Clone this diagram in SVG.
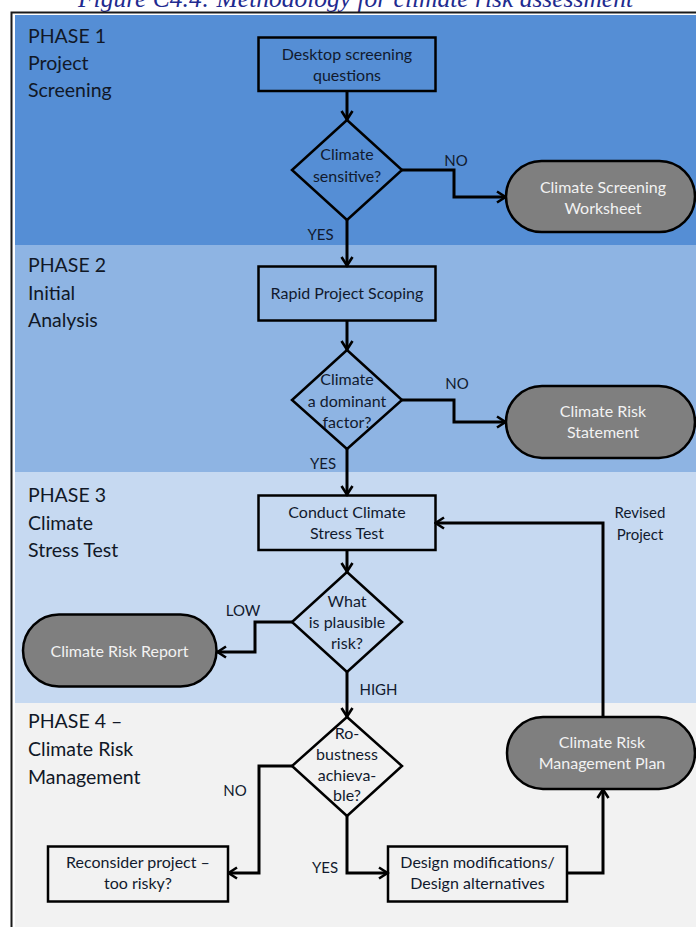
<svg xmlns="http://www.w3.org/2000/svg" width="696" height="927" viewBox="0 0 696 927">
<defs>
<style>
.lbl{font-family:Lato,"Noto Sans","Liberation Sans",sans-serif;font-size:19.5px;fill:#111827}
.t{font-family:Lato,"Noto Sans","Liberation Sans",sans-serif;font-size:16px;fill:#111a2e;text-anchor:middle}
.tw{font-family:Lato,"Noto Sans","Liberation Sans",sans-serif;font-size:16px;fill:#f2f2f2;text-anchor:middle}
.e{font-family:Lato,"Noto Sans","Liberation Sans",sans-serif;font-size:15px;fill:#111a2e;text-anchor:middle}
.box{fill:none;stroke:#000;stroke-width:2.5}
.term{fill:#7f7f7f;stroke:#000;stroke-width:2.5}
.c{fill:none;stroke:#000;stroke-width:3;marker-end:url(#ah)}
</style>
<marker id="ah" viewBox="0 0 12 14" refX="10.5" refY="7" markerWidth="12" markerHeight="14" markerUnits="userSpaceOnUse" orient="auto">
<path d="M1.5,1.5 L10,7 L1.5,12.5" fill="none" stroke="#000" stroke-width="2.6"/>
</marker>
</defs>
<rect x="0" y="0" width="696" height="927" fill="#fff"/>
<text x="355.5" y="7" text-anchor="middle" font-family="'Liberation Serif',serif" font-style="italic" font-size="25.5" fill="#1f2b8f">Figure C4.4: Methodology for climate risk assessment</text>
<rect x="11.5" y="12.5" width="700" height="930" fill="#fff" stroke="#1a1a1a" stroke-width="2"/>
<g id="bands">
<rect x="15" y="15" width="681" height="230" fill="#558ed5"/>
<rect x="15" y="245" width="681" height="227" fill="#8eb4e3"/>
<rect x="15" y="472" width="681" height="231" fill="#c6d9f1"/>
<rect x="15" y="703" width="681" height="224" fill="#f2f2f2"/>
</g>
<g id="phase1">
<text class="lbl" x="28" y="42.5">PHASE 1</text>
<text class="lbl" x="28" y="69.5">Project</text>
<text class="lbl" x="28" y="96.5">Screening</text>
</g>
<g id="phase2">
<text class="lbl" x="28" y="272">PHASE 2</text>
<text class="lbl" x="28" y="299.5">Initial</text>
<text class="lbl" x="28" y="327">Analysis</text>
</g>
<g id="phase3">
<text class="lbl" x="28" y="502">PHASE 3</text>
<text class="lbl" x="28" y="529.5">Climate</text>
<text class="lbl" x="28" y="557">Stress Test</text>
</g>
<g id="phase4">
<text class="lbl" x="28" y="727.5">PHASE 4 –</text>
<text class="lbl" x="28" y="756">Climate Risk</text>
<text class="lbl" x="28" y="784">Management</text>
</g>
<g id="connectors">
<polyline class="c" points="347,91 347,120"/>
<polyline class="c" points="402,170 454,170 454,197 506,197"/>
<polyline class="c" points="347,220 347,266"/>
<polyline class="c" points="347,320.5 347,350"/>
<polyline class="c" points="402,400 454,400 454,422 506,422"/>
<polyline class="c" points="347,449 347,495"/>
<polyline class="c" points="347,550 347,572"/>
<polyline class="c" points="292,622 255,622 255,652 217,652"/>
<polyline class="c" points="347,672 347,717"/>
<polyline class="c" points="292,766 259,766 259,873 228,873"/>
<polyline class="c" points="347,816 347,873 388,873"/>
<polyline class="c" points="567,873 603,873 603,789"/>
<polyline class="c" points="603,717 603,523 435,523"/>
<text class="e" x="456" y="165.5">NO</text>
<text class="e" x="320.5" y="240">YES</text>
<text class="e" x="457" y="388.5">NO</text>
<text class="e" x="323" y="469">YES</text>
<text class="e" x="243" y="615.5">LOW</text>
<text class="e" x="378.5" y="695">HIGH</text>
<text class="e" x="235" y="796">NO</text>
<text class="e" x="325" y="873">YES</text>
<text class="e" x="640" y="518">Revised</text>
<text class="e" x="640" y="539.5">Project</text>
</g>
<g id="desktop">
<rect class="box" x="258.5" y="37.5" width="177" height="53.5"/>
<text class="t" x="347" y="60">Desktop screening</text>
<text class="t" x="347" y="80.5">questions</text>
</g>
<g id="sensitive">
<polygon class="box" points="347,120 402,170 347,220 292,170"/>
<text class="t" x="347" y="160">Climate</text>
<text class="t" x="347" y="181.5">sensitive?</text>
</g>
<g id="worksheet">
<rect class="term" x="506" y="161" width="189" height="71" rx="35.5"/>
<text class="tw" x="603" y="193">Climate Screening</text>
<text class="tw" x="603" y="213.5">Worksheet</text>
</g>
<g id="scoping">
<rect class="box" x="258.5" y="266.5" width="177" height="54"/>
<text class="t" x="347" y="299">Rapid Project Scoping</text>
</g>
<g id="dominant">
<polygon class="box" points="347,350 402,400 347,449 292,400"/>
<text class="t" x="347" y="385">Climate</text>
<text class="t" x="347" y="406.5">a dominant</text>
<text class="t" x="347" y="428">factor?</text>
</g>
<g id="statement">
<rect class="term" x="506" y="386" width="189" height="72" rx="36"/>
<text class="tw" x="603" y="417">Climate Risk</text>
<text class="tw" x="603" y="438">Statement</text>
</g>
<g id="stresstest">
<rect class="box" x="258.5" y="495.5" width="177" height="54.5"/>
<text class="t" x="347" y="518">Conduct Climate</text>
<text class="t" x="347" y="538.5">Stress Test</text>
</g>
<g id="plausible">
<polygon class="box" points="347,572 402,622 347,672 292,622"/>
<text class="t" x="347" y="607">What</text>
<text class="t" x="347" y="628">is plausible</text>
<text class="t" x="347" y="648.5">risk?</text>
</g>
<g id="report">
<rect class="term" x="23" y="614.5" width="193.5" height="72" rx="36"/>
<text class="tw" x="119.5" y="656.5">Climate Risk Report</text>
</g>
<g id="robustness">
<polygon class="box" points="347,717 402,766 347,816 292,766"/>
<text class="t" x="347" y="739">Ro-</text>
<text class="t" x="347" y="760">bustness</text>
<text class="t" x="347" y="781">achieva-</text>
<text class="t" x="347" y="801">ble?</text>
</g>
<g id="plan">
<rect class="term" x="507" y="717" width="188" height="72" rx="36"/>
<text class="tw" x="602" y="748">Climate Risk</text>
<text class="tw" x="602" y="769">Management Plan</text>
</g>
<g id="reconsider">
<rect class="box" x="48" y="846.5" width="180" height="55"/>
<text class="t" x="138" y="868">Reconsider project –</text>
<text class="t" x="138" y="888.5">too risky?</text>
</g>
<g id="design">
<rect class="box" x="388" y="846.5" width="179" height="55"/>
<text class="t" x="477.5" y="868">Design modifications/</text>
<text class="t" x="477.5" y="888.5">Design alternatives</text>
</g>
</svg>
